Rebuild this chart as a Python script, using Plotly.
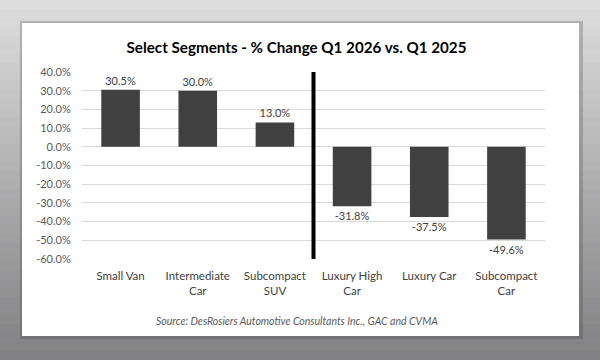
import plotly.graph_objects as go

categories = ["Small Van", "Intermediate<br>Car", "Subcompact<br>SUV",
              "Luxury High<br>Car", "Luxury Car", "Subcompact<br>Car"]
values = [30.5, 30.0, 13.0, -31.8, -37.5, -49.6]
tick_vals = [40, 30, 20, 10, 0, -10, -20, -30, -40, -50, -60]
tick_text = [f"{v:.1f}%" for v in tick_vals]
separator_pos = 2.5  # between the growth and the decline segments

W, H = 600, 360
L, R, T, B = 82, 545, 72, 259  # plot area in pixels


def px2x(px):
    return (px - L) / (R - L)


def px2y(py):
    return (B - py) / (B - T)


def lerp(c1, c2, t):
    return tuple(round(a + (b - a) * t) for a, b in zip(c1, c2))


shapes = []
# background gradient
top_c, bot_c = (222, 222, 222), (128, 128, 130)
n = 40
for i in range(n):
    y0 = H * i / n
    y1 = H * (i + 1) / n + 0.5
    c = lerp(top_c, bot_c, (i + 0.5) / n)
    shapes.append(dict(type="rect", xref="paper", yref="paper",
                       x0=px2x(-2), x1=px2x(W + 2), y0=px2y(y0), y1=px2y(y1),
                       fillcolor=f"rgb{c}", line_width=0, layer="below"))
# card shadow
shapes.append(dict(type="rect", xref="paper", yref="paper",
                   x0=px2x(20), x1=px2x(583), y0=px2y(21), y1=px2y(339),
                   fillcolor="rgba(60,60,60,0.25)", line_width=0, layer="below"))
# white card
shapes.append(dict(type="rect", xref="paper", yref="paper",
                   x0=px2x(22), x1=px2x(579), y0=px2y(23), y1=px2y(336),
                   fillcolor="white", line_width=0, layer="below"))
# separator line
shapes.append(dict(type="line", xref="x", yref="y",
                   x0=separator_pos, x1=separator_pos, y0=40, y1=-60,
                   line=dict(color="black", width=4), layer="above"))

fig = go.Figure(go.Bar(
    x=list(range(len(categories))), y=values,
    marker=dict(color="#404040", line=dict(width=0)),
    text=[f"{v:.1f}%" for v in values], textposition="outside",
    textfont=dict(family="Lato", size=11, color="#404040"),
    cliponaxis=False,
))

fig.update_layout(
    width=W, height=H,
    margin=dict(l=L, r=W - R, t=T, b=H - B, pad=0),
    paper_bgcolor="white", plot_bgcolor="rgba(0,0,0,0)",
    bargap=0.5, showlegend=False,
    font=dict(family="Lato", color="#595959"),
    title=dict(text="<b>Select Segments - % Change Q1 2026 vs. Q1 2025</b>",
               x=296.5 / W, xanchor="center", y=1 - 47.5 / H, yanchor="middle",
               xref="container",
               font=dict(family="Lato", size=15.2, color="black")),
    shapes=shapes,
    annotations=[dict(text="<i>Source: DesRosiers Automotive Consultants Inc., GAC and CVMA</i>",
                      xref="paper", yref="paper", x=px2x(297), y=px2y(321),
                      xanchor="center", yanchor="middle", showarrow=False,
                      font=dict(family="Lato", size=10.5, color="#595959"))],
)
fig.update_xaxes(tickvals=list(range(len(categories))), ticktext=categories,
                 range=[-0.5, len(categories) - 0.5], showgrid=False,
                 zeroline=False, showline=False, ticks="outside", ticklen=6,
                 tickcolor="rgba(0,0,0,0)",
                 tickfont=dict(family="Lato", size=11.5, color="#404040"))
fig.update_yaxes(range=[-60, 40], tickvals=tick_vals, ticktext=tick_text,
                 showgrid=True, gridcolor="#d9d9d9", gridwidth=1,
                 zeroline=True, zerolinecolor="#d9d9d9", zerolinewidth=1,
                 showline=False, ticks="outside", ticklen=8,
                 tickcolor="rgba(0,0,0,0)",
                 tickfont=dict(family="Lato", size=11, color="#595959"))

fig.write_html("out.html", config={"displayModeBar": False},
               post_script="document.body.style.margin='0';document.body.style.overflow='hidden';")
